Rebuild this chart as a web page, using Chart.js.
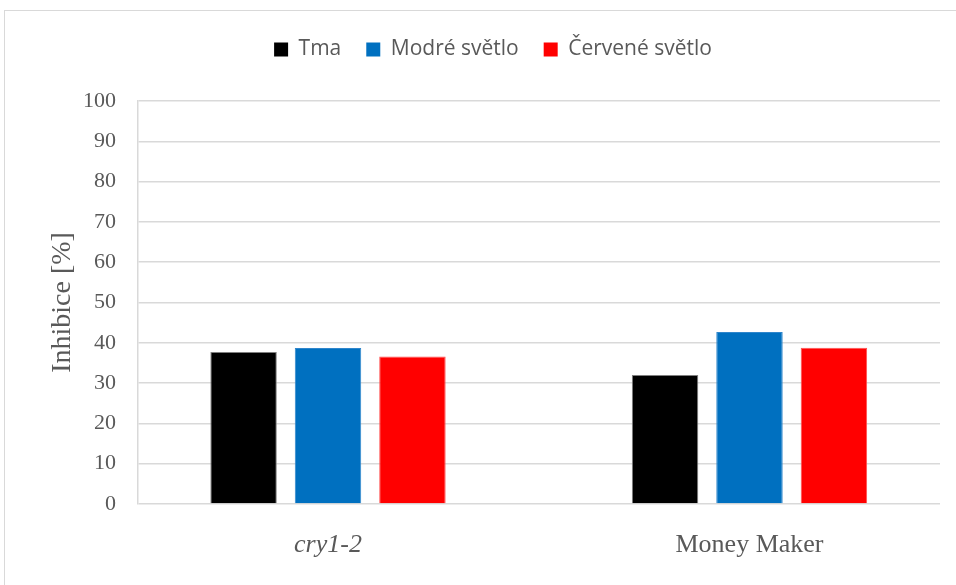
<!DOCTYPE html>
<html>
<head>
<meta charset="utf-8">
<script src="https://cdn.jsdelivr.net/npm/chart.js@4/dist/chart.umd.min.js"></script>
<style>
  html, body { margin: 0; padding: 0; background: #fff; }
  #wrap { width: 956px; height: 585px; }
</style>
</head>
<body>
<div id="wrap"><canvas id="myChart" width="956" height="585"></canvas></div>
<script>
// data
const categories = ["cry1-2", "Money Maker"];
const tma = [37.7, 32.0];
const modre = [38.7, 42.7];
const cervene = [36.6, 38.8];
const yTicks = [0, 10, 20, 30, 40, 50, 60, 70, 80, 90, 100];

const grey = "#595959";
const serif = "'Liberation Serif', 'Times New Roman', serif";

// bars sit on x = 0, 1 of a linear axis so the groups can be placed like in the original
function points(values) {
    return values.map((v, i) => ({ x: i, y: v }));
}

// thin frame round the whole chart
const frame = {
    id: "frame",
    beforeDraw(chart) {
        const c = chart.ctx;
        c.save();
        c.strokeStyle = "#d9d9d9";
        c.lineWidth = 1;
        c.strokeRect(4.5, 10.5, 1000, 1000);
        c.restore();
    },
};

const ctx = document.getElementById("myChart").getContext("2d");
const myChart = new Chart(ctx, {
    type: "bar",
    data: {
        datasets: [
            {
                label: "Tma",
                data: points(tma),
                backgroundColor: "#000000",
                borderColor: "#7f7f7f",
                borderWidth: 1,
            },
            {
                label: "Modré světlo",
                data: points(modre),
                backgroundColor: "#0070c0",
                borderColor: "#2f86cc",
                borderWidth: 1,
            },
            {
                label: "Červené světlo",
                data: points(cervene),
                backgroundColor: "#ff0000",
                borderColor: "#ff5050",
                borderWidth: 1,
            },
        ],
    },
    options: {
        responsive: false,
        animation: false,
        layout: { padding: { top: 14, left: 46, right: 16, bottom: 0 } },
        categoryPercentage: 0.601,
        barPercentage: 0.787,
        plugins: {
            tooltip: { enabled: false },
            // empty subtitle under the legend, only used as a spacer
            subtitle: {
                display: true,
                text: " ",
                weight: 500,
                padding: { top: 21, bottom: 0 },
                font: { size: 10, lineHeight: 1 },
            },
            legend: {
                position: "top",
                labels: {
                    boxWidth: 14,
                    boxHeight: 14,
                    padding: 25,
                    color: grey,
                    font: { family: "'Open Sans'", size: 21 },
                    generateLabels(chart) {
                        return chart.data.datasets.map((ds, i) => ({
                            text: ds.label,
                            fillStyle: ds.backgroundColor,
                            strokeStyle: ds.backgroundColor,
                            lineWidth: 0,
                            fontColor: grey,
                            datasetIndex: i,
                        }));
                    },
                },
            },
        },
        scales: {
            x: {
                type: "linear",
                offset: false,
                bounds: "ticks",
                min: -0.4508,
                max: 1.452,
                grid: { display: false },
                border: { display: false },
                afterFit(scale) {
                    scale.height = 81;
                },
                afterBuildTicks(scale) {
                    scale.ticks = categories.map((c, i) => ({ value: i }));
                },
                ticks: {
                    padding: 18,
                    color: grey,
                    maxRotation: 0,
                    autoSkip: false,
                    font: (c) => ({
                        family: serif,
                        size: 26,
                        style: c.index === 0 ? "italic" : "normal",
                    }),
                    callback: (v) => categories[v],
                },
            },
            y: {
                min: 0,
                max: 100,
                afterFit(scale) {
                    scale.width = 92;
                },
                afterBuildTicks(scale) {
                    scale.ticks = yTicks.map((v) => ({ value: v }));
                },
                grid: { color: "#d9d9d9", lineWidth: 1.5, drawTicks: false },
                border: { color: "#d9d9d9", width: 1.5 },
                title: {
                    display: true,
                    text: "Inhibice [%]",
                    color: grey,
                    padding: { top: 0, bottom: 0 },
                    font: { family: serif, size: 28 },
                },
                ticks: {
                    padding: 22,
                    color: grey,
                    font: { family: serif, size: 22 },
                },
            },
        },
    },
    plugins: [frame],
});
</script>
</body>
</html>
